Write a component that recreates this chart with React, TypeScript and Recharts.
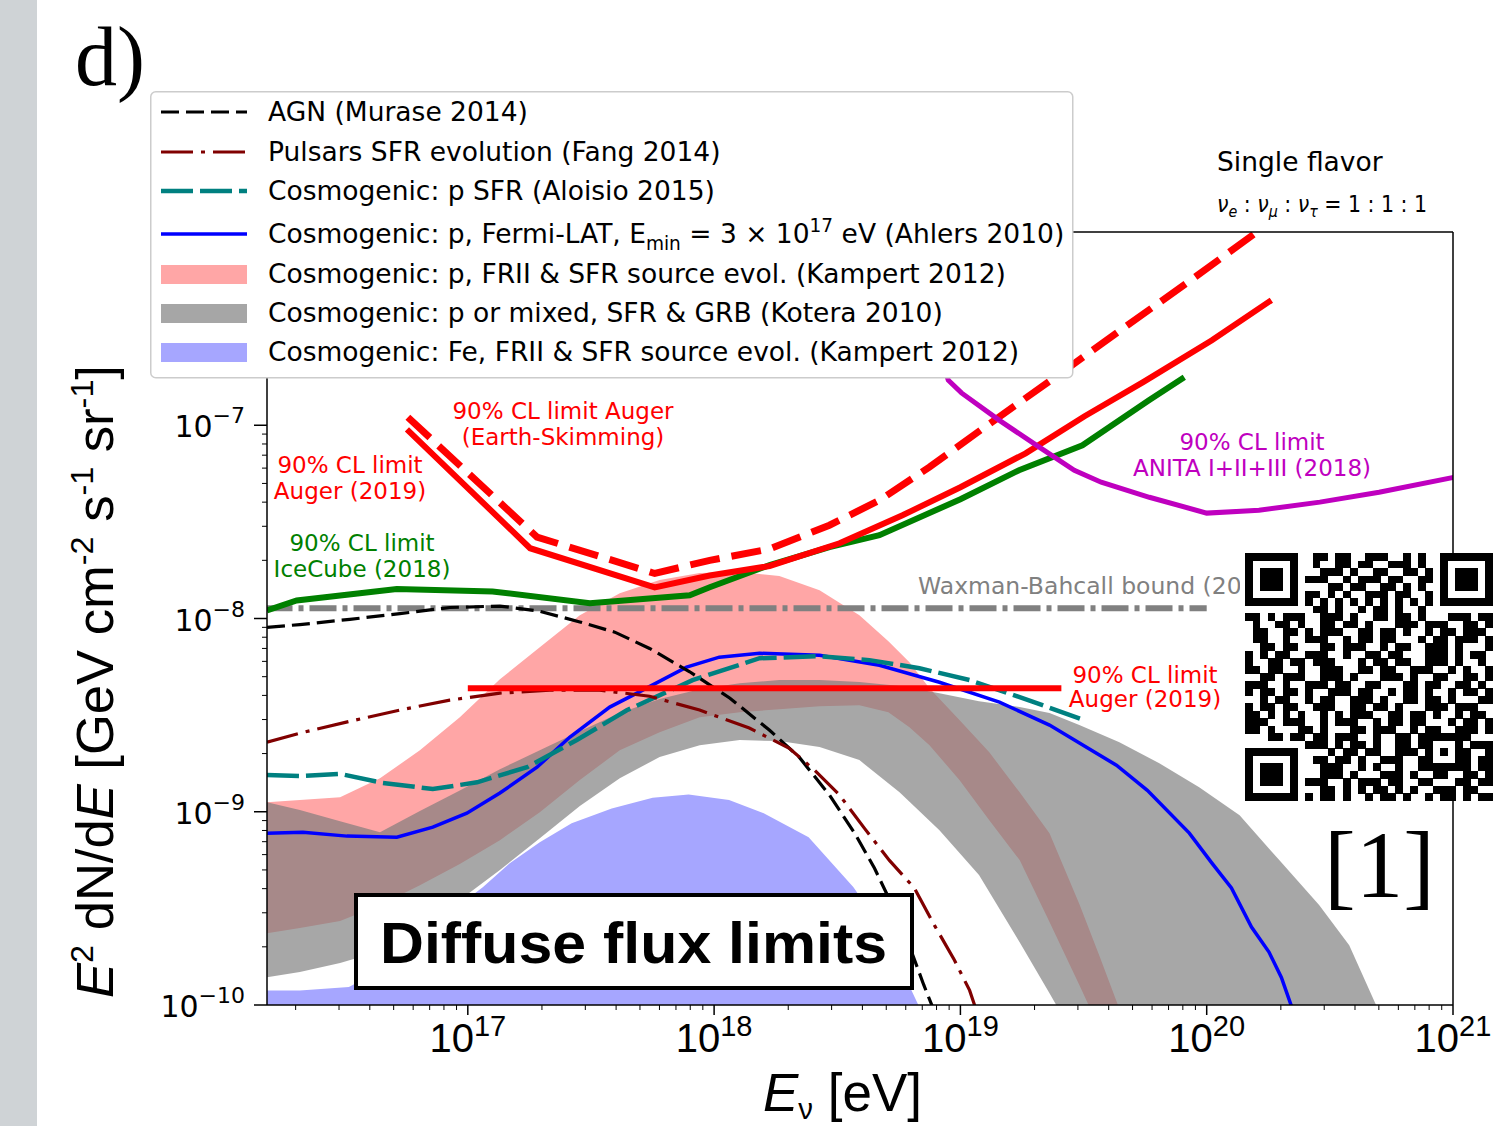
import React from 'react';
import { ComposedChart, Line, Area, XAxis, YAxis, Legend } from 'recharts';

const W = 1493;
const H = 1126;
const SANS = "'DejaVu Sans', sans-serif";
const NARROW = "'Liberation Sans Narrow', 'Liberation Sans', sans-serif";
const SERIF = "'Liberation Serif', 'DejaVu Serif', serif";
const BOLD = "'Liberation Sans', Arial, sans-serif";

// axis ranges (E in eV, flux in GeV cm^-2 s^-1 sr^-1)
const X_MIN = 1.53e16;
const X_MAX = 1e21;
const Y_MIN = 1e-10;
const Y_MAX = 1e-6;

const xMajor = [1e17, 1e18, 1e19, 1e20, 1e21];
const yMajor = [1e-10, 1e-9, 1e-8, 1e-7, 1e-6];

function withMinors(fromExp: number, toExp: number, lo: number, hi: number) {
  const out: number[] = [];
  for (let e = fromExp; e <= toExp; e++) {
    for (let m = 1; m <= 9; m++) {
      const v = m * Math.pow(10, e);
      if (v >= lo && v <= hi) out.push(v);
    }
  }
  return out;
}
const xTicks = withMinors(16, 21, X_MIN, X_MAX);
const yTicks = withMinors(-10, -6, Y_MIN, Y_MAX);

// ---- model predictions ----
const agnE = [1.53e16, 2.08e16, 3.32e16, 5.3e16, 8.45e16, 1.35e17, 1.96e17, 2.85e17, 3.95e17, 5.47e17, 7.96e17, 1.16e18, 1.68e18, 2.22e18, 2.94e18, 3.72e18, 4.48e18, 5.4e18, 6.3e18, 7.1e18, 7.8e18];
const agnF = [9.0e-9, 9.3e-9, 9.9e-9, 1.06e-8, 1.14e-8, 1.16e-8, 1.09e-8, 9.6e-9, 8.5e-9, 7.0e-9, 5.3e-9, 3.87e-9, 2.64e-9, 1.91e-9, 1.22e-9, 7.75e-10, 5.1e-10, 3.1e-10, 1.92e-10, 1.27e-10, 9.4e-11];

const pulsarE = [1.53e16, 2.08e16, 3.32e16, 5.3e16, 8.45e16, 1.35e17, 2.15e17, 3.43e17, 5.47e17, 8.73e17, 1.39e18, 2.02e18, 2.56e18, 3.23e18, 4.08e18, 5.15e18, 6.5e18, 7.84e18, 9.45e18, 1.09e19, 1.16e19];
const pulsarF = [2.29e-9, 2.55e-9, 2.94e-9, 3.36e-9, 3.78e-9, 4.11e-9, 4.26e-9, 4.26e-9, 3.96e-9, 3.36e-9, 2.71e-9, 2.13e-9, 1.64e-9, 1.22e-9, 8.2e-10, 5.6e-10, 4.03e-10, 2.59e-10, 1.71e-10, 1.19e-10, 9.4e-11];

const aloisioE = [1.53e16, 2.08e16, 3.03e16, 4.52e16, 7.21e16, 1.09e17, 1.74e17, 2.77e17, 4.42e17, 8.18e17, 1.53e18, 2.68e18, 4.27e18, 6.82e18, 1.09e19, 1.74e19, 3.18e19];
const aloisioF = [1.55e-9, 1.53e-9, 1.57e-9, 1.41e-9, 1.31e-9, 1.42e-9, 1.7e-9, 2.35e-9, 3.35e-9, 4.8e-9, 6.23e-9, 6.38e-9, 6.09e-9, 5.53e-9, 4.8e-9, 3.92e-9, 2.98e-9];

const ahlersE = [1.53e16, 2.14e16, 3.23e16, 5.15e16, 7.21e16, 9.91e16, 1.35e17, 1.91e17, 2.59e17, 3.77e17, 5.13e17, 7.73e17, 1.05e18, 1.53e18, 2.68e18, 4.69e18, 8.22e18, 1.44e19, 2.3e19, 4.3e19, 5.74e19, 8.5e19, 1.05e20, 1.26e20, 1.52e20, 1.79e20, 2.01e20, 2.2e20, 2.29e20];
const ahlersF = [7.75e-10, 7.84e-10, 7.48e-10, 7.39e-10, 8.32e-10, 9.83e-10, 1.25e-9, 1.7e-9, 2.43e-9, 3.48e-9, 4.26e-9, 5.6e-9, 6.31e-9, 6.61e-9, 6.46e-9, 5.73e-9, 4.68e-9, 3.69e-9, 2.81e-9, 1.74e-9, 1.29e-9, 7.75e-10, 5.42e-10, 4.03e-10, 2.53e-10, 1.88e-10, 1.39e-10, 1.0e-10, 8.87e-11];

// bands: shared energies, lower and upper edge
const kampertE = [1.53e16, 2.08e16, 3.03e16, 4.4e16, 6.39e16, 9.28e16, 1.35e17, 1.96e17, 2.85e17, 4.14e17, 6.01e17, 8.74e17, 1.27e18, 1.84e18, 2.68e18, 3.89e18, 5.1e18, 6.21e18, 7.49e18, 9.91e18, 1.31e19, 1.74e19, 2.3e19, 3.04e19, 3.66e19, 4.63e19];
const kampertLo = [2.35e-10, 2.5e-10, 2.72e-10, 3.29e-10, 4.17e-10, 5.36e-10, 7.13e-10, 9.95e-10, 1.46e-9, 2.08e-9, 2.58e-9, 3.08e-9, 3.27e-9, 3.39e-9, 3.52e-9, 3.56e-9, 3.27e-9, 2.74e-9, 2.21e-9, 1.46e-9, 9.05e-10, 5.62e-10, 2.69e-10, 1.27e-10, 7.6e-11, 4.09e-11];
const kampertHi = [1.12e-9, 1.15e-9, 1.19e-9, 1.49e-9, 2.08e-9, 3.08e-9, 4.85e-9, 7.1e-9, 1.04e-8, 1.35e-8, 1.58e-8, 1.72e-8, 1.74e-8, 1.66e-8, 1.4e-8, 1.04e-8, 7.63e-9, 5.94e-9, 4.36e-9, 2.98e-9, 2.03e-9, 1.26e-9, 7.75e-10, 3.33e-10, 1.81e-10, 8.16e-11];

const koteraE = [1.53e16, 2.08e16, 3.03e16, 4.4e16, 6.39e16, 9.28e16, 1.35e17, 1.96e17, 2.85e17, 4.14e17, 6.01e17, 8.74e17, 1.27e18, 1.84e18, 2.68e18, 3.89e18, 5.66e18, 8.22e18, 1.19e19, 1.74e19, 2.3e19, 3.04e19, 4.42e19, 6.42e19, 9.32e19, 1.36e20, 1.97e20, 2.86e20, 3.79e20, 4.87e20, 6.04e20];
const koteraLo = [1.39e-10, 1.48e-10, 1.65e-10, 1.9e-10, 2.44e-10, 3.49e-10, 4.99e-10, 7.3e-10, 1.07e-9, 1.49e-9, 1.92e-9, 2.21e-9, 2.35e-9, 2.32e-9, 2.16e-9, 1.85e-9, 1.26e-9, 8.03e-10, 4.7e-10, 2.11e-10, 1.15e-10, 6.2e-11, 2.86e-11, 1e-11, 1e-11, 1e-11, 1e-11, 1e-11, 1e-11, 1e-11, 1e-11];
const koteraHi = [1.12e-9, 1.02e-9, 8.94e-10, 7.84e-10, 1.01e-9, 1.29e-9, 1.66e-9, 2.08e-9, 2.61e-9, 3.24e-9, 3.83e-9, 4.31e-9, 4.63e-9, 4.8e-9, 4.8e-9, 4.69e-9, 4.47e-9, 4.11e-9, 3.73e-9, 3.48e-9, 3.24e-9, 2.81e-9, 2.29e-9, 1.78e-9, 1.34e-9, 9.6e-10, 5.62e-10, 3.29e-10, 2.04e-10, 1.0e-10, 5.84e-11];

const ironE = [1.53e16, 2.08e16, 3.29e16, 5.3e16, 7.7e16, 1.15e17, 1.48e17, 1.96e17, 2.64e17, 3.84e17, 5.63e17, 7.88e17, 1.15e18, 1.59e18, 2.42e18, 3.68e18, 4.69e18, 5.66e18, 6.75e18, 7.49e18];
const ironF = [1.19e-10, 1.19e-10, 1.24e-10, 1.71e-10, 2.75e-10, 4.07e-10, 5.42e-10, 6.96e-10, 8.73e-10, 1.04e-9, 1.18e-9, 1.23e-9, 1.15e-9, 9.83e-10, 7.39e-10, 4.07e-10, 2.59e-10, 1.61e-10, 1.0e-10, 7.42e-11];

// ---- limits ----
const wbE = [1e16, 1e20];
const wbF = [1.13e-8, 1.13e-8];

const iceE = [1.53e16, 2.02e16, 5.15e16, 1.26e17, 3.13e17, 7.96e17, 9.6e17, 1.68e18, 2.94e18, 4.69e18, 1.0e19, 1.73e19, 3.13e19, 5.85e19, 8.11e19];
const iceF = [1.1e-8, 1.24e-8, 1.42e-8, 1.38e-8, 1.2e-8, 1.32e-8, 1.45e-8, 1.89e-8, 2.34e-8, 2.7e-8, 4.14e-8, 5.85e-8, 7.88e-8, 1.35e-7, 1.77e-7];

const augerEsE = [5.71e16, 1.91e17, 5.74e17, 9.6e17, 1.68e18, 2.94e18, 4.69e18, 7.48e18, 1.27e19, 2.62e19, 4.46e19, 8.5e19, 1.6e20, 2.16e20];
const augerEsF = [1.1e-7, 2.64e-8, 1.71e-8, 2.0e-8, 2.29e-8, 3.04e-8, 4.09e-8, 6.07e-8, 9.88e-8, 1.9e-7, 3.1e-7, 5.56e-7, 1.0e-6, 1.31e-6];

const augerE = [5.66e16, 1.79e17, 5.74e17, 9.6e17, 1.68e18, 3.23e18, 5.82e18, 1.0e19, 1.84e19, 3.18e19, 5.52e19, 1.05e20, 1.83e20];
const augerF = [9.53e-8, 2.31e-8, 1.45e-8, 1.67e-8, 1.87e-8, 2.45e-8, 3.42e-8, 4.78e-8, 7.16e-8, 1.11e-7, 1.67e-7, 2.75e-7, 4.44e-7];

const augerIntE = [1e17, 2.57e19];
const augerIntF = [4.36e-9, 4.36e-9];

const anitaE = [6.82e18, 8.93e18, 1.01e19, 1.44e19, 2.09e19, 2.9e19, 3.73e19, 5.85e19, 1.0e20, 1.63e20, 2.88e20, 5.01e20, 1.01e21];
const anitaF = [4.99e-7, 1.71e-7, 1.47e-7, 1.06e-7, 7.7e-8, 5.85e-8, 5.07e-8, 4.24e-8, 3.51e-8, 3.63e-8, 4.0e-8, 4.5e-8, 5.38e-8];

const pts = (es: number[], fs: number[]) => es.map((e, i) => ({ e, f: fs[i] }));
const band = (es: number[], lo: number[], hi: number[]) => es.map((e, i) => ({ e, r: [lo[i], hi[i]] }));

// line / fill styles shared by the plot and the legend
const ST = {
  agn: { stroke: '#000000', width: 3.2, dash: '18 7' },
  pulsar: { stroke: '#800000', width: 3.2, dash: '32 8 4 8' },
  aloisio: { stroke: '#008080', width: 4.5, dash: '32 7' },
  ahlers: { stroke: '#0000ff', width: 3.5, dash: undefined as string | undefined },
  kampert: '#ffa6a6',
  kotera: '#a6a6a6',
  iron: '#a6a6ff',
};

const legendRows = [
  { label: 'AGN (Murase 2014)', line: ST.agn },
  { label: 'Pulsars SFR evolution (Fang 2014)', line: ST.pulsar },
  { label: 'Cosmogenic: p SFR (Aloisio 2015)', line: ST.aloisio },
  { label: 'Cosmogenic: p, Fermi-LAT, E_{min} = 3 \u00d7 10^{17} eV (Ahlers 2010)', line: ST.ahlers },
  { label: 'Cosmogenic: p, FRII & SFR source evol. (Kampert 2012)', fill: ST.kampert },
  { label: 'Cosmogenic: p or mixed, SFR & GRB (Kotera 2010)', fill: ST.kotera },
  { label: 'Cosmogenic: Fe, FRII & SFR source evol. (Kampert 2012)', fill: ST.iron },
];

// turns "a_{b}" / "a^{b}" into tspans
function rich(s: string, size: number) {
  const parts = s.split(/(_\{[^}]*\}|\^\{[^}]*\})/).filter(Boolean);
  let shift = 0;
  return parts.map((p, i) => {
    if (p.startsWith('_{') || p.startsWith('^{')) {
      const target = p[0] === '_' ? size * 0.25 : -size * 0.42;
      const dy = target - shift;
      shift = target;
      return (
        <tspan key={i} fontSize={size * 0.7} dy={dy}>
          {p.slice(2, -1)}
        </tspan>
      );
    }
    const dy = -shift;
    shift = 0;
    return (
      <tspan key={i} dy={dy}>
        {p}
      </tspan>
    );
  });
}

function LegendBox() {
  const handleY = [21, 61, 100, 143, 183.5, 222.5, 261.5];
  const textY = [30, 70, 109, 152, 192, 231, 270];
  return (
    <svg width={925} height={290} style={{ display: 'block' }}>
      <rect x={0.75} y={0.75} width={922} height={286} rx={5} fill="#ffffff" stroke="#cccccc" strokeWidth={1.5} />
      {legendRows.map((row, i) => (
        <g key={i}>
          {row.line ? (
            <line
              x1={11}
              x2={97}
              y1={handleY[i]}
              y2={handleY[i]}
              stroke={row.line.stroke}
              strokeWidth={row.line.width}
              strokeDasharray={row.line.dash}
            />
          ) : (
            <rect x={11} y={handleY[i] - 9.5} width={86} height={19} fill={row.fill} />
          )}
          <text x={118} y={textY[i]} fontFamily={SANS} fontSize={26.5} fill="#000">
            {rich(row.label, 26.5)}
          </text>
        </g>
      ))}
    </svg>
  );
}

function XTick(props: any) {
  const { x, y, payload } = props;
  const v = payload.value as number;
  const major = xMajor.includes(v);
  return (
    <g>
      <line x1={x} x2={x} y1={y} y2={y + (major ? 10 : 5)} stroke="#000" strokeWidth={major ? 1.5 : 1} />
      {major && (
        <text x={x} y={y + 47} textAnchor="middle" fontFamily={NARROW} fontSize={40} fill="#000">
          10
          <tspan fontSize={29} dy={-16}>
            {Math.round(Math.log10(v))}
          </tspan>
        </text>
      )}
    </g>
  );
}

function YTick(props: any) {
  const { x, y, payload } = props;
  const v = payload.value as number;
  const major = yMajor.includes(v);
  const exp = Math.round(Math.log10(v));
  return (
    <g>
      <line x1={x} x2={x - (major ? 13 : 5)} y1={y} y2={y} stroke="#000" strokeWidth={major ? 1.5 : 1} />
      {major && (
        <text x={x - 22} y={y + 12} textAnchor="end" fontFamily={SANS} fontSize={30} fill="#000">
          10
          <tspan fontSize={22} dy={-14}>
            {'\u2212' + Math.abs(exp)}
          </tspan>
        </text>
      )}
    </g>
  );
}

function YTitle() {
  return (
    <text
      transform="translate(113, 998) rotate(-90)"
      fontFamily={NARROW}
      fontSize={52}
      fill="#000"
      textLength={633}
      lengthAdjust="spacingAndGlyphs"
    >
      <tspan fontStyle="italic">E</tspan>
      <tspan fontSize={32} dy={-20}>2</tspan>
      <tspan dy={20}>{' dN/d'}</tspan>
      <tspan fontStyle="italic">E</tspan>
      <tspan>{' [GeV cm'}</tspan>
      <tspan fontSize={32} dy={-20}>-2</tspan>
      <tspan dy={20}>{' s'}</tspan>
      <tspan fontSize={32} dy={-20}>-1</tspan>
      <tspan dy={20}>{' sr'}</tspan>
      <tspan fontSize={32} dy={-20}>-1</tspan>
      <tspan dy={20}>]</tspan>
    </text>
  );
}

function XTitle() {
  return (
    <text x={763} y={1111} fontFamily={NARROW} fontSize={54} fill="#000" textLength={159} lengthAdjust="spacingAndGlyphs">
      <tspan fontStyle="italic">E</tspan>
      <tspan fontSize={30} dy={8}>{'\u03bd'}</tspan>
      <tspan dy={-8}>{' [eV]'}</tspan>
    </text>
  );
}

// QR code: 33x33 modules, finder / timing / alignment patterns plus payload bits
const QR_N = 33;
const qrPayload =
  '0110110011100101001001101100111010001110100110011011110010111011001100011011001101010110101001110110010110100101101001011010110011101001101101000111011010011100110110100011101110011010110010101110011011010010110111001' +
  '1001011100101101100010110111010011010001101110010110011101000110101101110010011011000111010110100110101110001011011001110100101101101001110';

function buildQr() {
  const g: (number | null)[][] = Array.from({ length: QR_N }, () => Array(QR_N).fill(null));
  const finder = (r0: number, c0: number) => {
    for (let r = -1; r <= 7; r++)
      for (let c = -1; c <= 7; c++) {
        const rr = r0 + r;
        const cc = c0 + c;
        if (rr < 0 || cc < 0 || rr >= QR_N || cc >= QR_N) continue;
        const ring = Math.max(Math.abs(r - 3), Math.abs(c - 3));
        g[rr][cc] = ring === 4 || ring === 2 ? 0 : 1;
      }
  };
  finder(0, 0);
  finder(0, QR_N - 7);
  finder(QR_N - 7, 0);
  for (let i = 8; i < QR_N - 8; i++) {
    g[6][i] = i % 2 === 0 ? 1 : 0;
    g[i][6] = i % 2 === 0 ? 1 : 0;
  }
  for (let r = -2; r <= 2; r++)
    for (let c = -2; c <= 2; c++) {
      const ring = Math.max(Math.abs(r), Math.abs(c));
      g[26 + r][26 + c] = ring === 1 ? 0 : 1;
    }
  let k = 0;
  for (let r = 0; r < QR_N; r++)
    for (let c = 0; c < QR_N; c++)
      if (g[r][c] === null) {
        g[r][c] = qrPayload[k % qrPayload.length] === '1' ? 1 : 0;
        k++;
      }
  return g as number[][];
}

function QrCode({ x, y, size }: { x: number; y: number; size: number }) {
  const grid = buildQr();
  const m = size / QR_N;
  const cells: React.ReactNode[] = [];
  grid.forEach((row, r) => {
    let c = 0;
    while (c < QR_N) {
      if (row[c]) {
        let c2 = c;
        while (c2 < QR_N && row[c2]) c2++;
        cells.push(<rect key={`${r}-${c}`} x={x + c * m} y={y + r * m} width={(c2 - c) * m + 0.3} height={m + 0.3} />);
        c = c2;
      } else c++;
    }
  });
  return (
    <g>
      <rect x={x - 5} y={y} width={size + 5} height={size} fill="#ffffff" />
      <g fill="#000" shapeRendering="crispEdges">
        {cells}
      </g>
    </g>
  );
}

function Annotations() {
  return (
    <svg width={W} height={H} style={{ position: 'absolute', left: 0, top: 0, pointerEvents: 'none' }}>
      <text x={75} y={85} fontFamily={SERIF} fontSize={84} fill="#000">
        d)
      </text>
      <g fontFamily={SANS} fontSize={23} textAnchor="middle">
        <text x={563} y={419} fill="#ff0000">90% CL limit Auger</text>
        <text x={563} y={445} fill="#ff0000">(Earth-Skimming)</text>
        <text x={350} y={473} fill="#ff0000">90% CL limit</text>
        <text x={350} y={499} fill="#ff0000">Auger (2019)</text>
        <text x={362} y={551} fill="#008000">90% CL limit</text>
        <text x={362} y={577} fill="#008000">IceCube (2018)</text>
        <text x={1145} y={683} fill="#ff0000">90% CL limit</text>
        <text x={1145} y={707} fill="#ff0000">Auger (2019)</text>
        <text x={1252} y={450} fill="#bf00bf">90% CL limit</text>
        <text x={1252} y={476} fill="#bf00bf">ANITA I+II+III (2018)</text>
      </g>
      <text x={918} y={594} fontFamily={SANS} fontSize={23.5} fill="#808080">
        Waxman-Bahcall bound (2001)
      </text>
      <text x={1217} y={171} fontFamily={SANS} fontSize={26.5} fill="#000">
        Single flavor
      </text>
      <text x={1217} y={212} fontFamily={SANS} fontSize={23} fill="#000" textLength={210} lengthAdjust="spacingAndGlyphs">
        <tspan fontStyle="italic">{'\u03bd'}</tspan>
        <tspan fontSize={16} dy={5} fontStyle="italic">e</tspan>
        <tspan dy={-5}>{' : '}</tspan>
        <tspan fontStyle="italic">{'\u03bd'}</tspan>
        <tspan fontSize={16} dy={5} fontStyle="italic">{'\u03bc'}</tspan>
        <tspan dy={-5}>{' : '}</tspan>
        <tspan fontStyle="italic">{'\u03bd'}</tspan>
        <tspan fontSize={16} dy={5} fontStyle="italic">{'\u03c4'}</tspan>
        <tspan dy={-5}>{' = 1 : 1 : 1'}</tspan>
      </text>
      <rect x={356} y={895} width={556} height={93} fill="#ffffff" stroke="#000" strokeWidth={4} />
      <text x={380} y={963} fontFamily={BOLD} fontWeight="bold" fontSize={58} fill="#000" textLength={507} lengthAdjust="spacingAndGlyphs">
        Diffuse flux limits
      </text>
      <QrCode x={1245} y={553} size={248} />
      <text x={1324} y={897} fontFamily={SERIF} fontSize={95} fill="#000">
        [1]
      </text>
    </svg>
  );
}

const axisLine = { stroke: '#000', strokeWidth: 1.5 };

export default function App() {
  return (
    <div style={{ position: 'absolute', left: 0, top: 0, width: W, height: H, background: '#ffffff', overflow: 'hidden' }}>
      <div style={{ position: 'absolute', left: 0, top: 0, width: 37, height: H, background: '#cfd3d6' }} />
      <div style={{ position: 'absolute', left: 0, top: 0 }}>
        <ComposedChart width={W} height={H} margin={{ top: 231, right: 39, bottom: 0, left: 0 }}>
          <XAxis
            dataKey="e"
            type="number"
            scale="log"
            domain={[X_MIN, X_MAX]}
            allowDataOverflow
            ticks={xTicks}
            interval={0}
            tick={(p: any) => <XTick {...p} />}
            tickLine={false}
            tickSize={0}
            tickMargin={0}
            height={121}
            axisLine={axisLine}
            label={<XTitle />}
          />
          <XAxis
            xAxisId="top"
            orientation="top"
            type="number"
            scale="log"
            domain={[X_MIN, X_MAX]}
            allowDataOverflow
            ticks={xMajor}
            interval={0}
            tick={false}
            tickSize={10}
            tickLine={{ stroke: '#000', strokeWidth: 1.5 }}
            height={1}
            axisLine={axisLine}
          />
          <YAxis
            type="number"
            scale="log"
            domain={[Y_MIN, Y_MAX]}
            allowDataOverflow
            ticks={yTicks}
            interval={0}
            tick={(p: any) => <YTick {...p} />}
            tickLine={false}
            tickSize={0}
            tickMargin={0}
            width={267}
            axisLine={axisLine}
            label={<YTitle />}
          />
          <YAxis
            yAxisId="right"
            orientation="right"
            type="number"
            scale="log"
            domain={[Y_MIN, Y_MAX]}
            allowDataOverflow
            ticks={yMajor}
            interval={0}
            tick={false}
            tickSize={13}
            tickLine={{ stroke: '#000', strokeWidth: 1.5 }}
            width={1}
            axisLine={axisLine}
          />

          <Area data={band(kampertE, kampertLo, kampertHi)} dataKey="r" type="linear" stroke="none" fill={ST.kampert} fillOpacity={1} isAnimationActive={false} />
          <Area data={band(koteraE, koteraLo, koteraHi)} dataKey="r" type="linear" stroke="none" fill="#797979" fillOpacity={0.66} isAnimationActive={false} />
          <Area data={pts(ironE, ironF)} dataKey="f" type="linear" baseValue="dataMin" stroke="none" fill={ST.iron} fillOpacity={1} isAnimationActive={false} />

          <Line data={pts(ahlersE, ahlersF)} dataKey="f" type="linear" stroke={ST.ahlers.stroke} strokeWidth={ST.ahlers.width} dot={false} isAnimationActive={false} />
          <Line data={pts(aloisioE, aloisioF)} dataKey="f" type="linear" stroke={ST.aloisio.stroke} strokeWidth={ST.aloisio.width} strokeDasharray={ST.aloisio.dash} dot={false} isAnimationActive={false} />
          <Line data={pts(wbE, wbF)} dataKey="f" type="linear" stroke="#808080" strokeWidth={6} strokeDasharray="27 6 5 6" dot={false} isAnimationActive={false} />
          <Line data={pts(agnE, agnF)} dataKey="f" type="linear" stroke={ST.agn.stroke} strokeWidth={ST.agn.width} strokeDasharray={ST.agn.dash} dot={false} isAnimationActive={false} />
          <Line data={pts(pulsarE, pulsarF)} dataKey="f" type="linear" stroke={ST.pulsar.stroke} strokeWidth={ST.pulsar.width} strokeDasharray={ST.pulsar.dash} dot={false} isAnimationActive={false} />
          <Line data={pts(iceE, iceF)} dataKey="f" type="linear" stroke="#008000" strokeWidth={6} dot={false} isAnimationActive={false} />
          <Line data={pts(augerEsE, augerEsF)} dataKey="f" type="linear" stroke="#ff0000" strokeWidth={7} strokeDasharray="30 12" dot={false} isAnimationActive={false} />
          <Line data={pts(augerE, augerF)} dataKey="f" type="linear" stroke="#ff0000" strokeWidth={6} dot={false} isAnimationActive={false} />
          <Line data={pts(augerIntE, augerIntF)} dataKey="f" type="linear" stroke="#ff0000" strokeWidth={6} dot={false} isAnimationActive={false} />
          <Line data={pts(anitaE, anitaF)} dataKey="f" type="linear" stroke="#bf00bf" strokeWidth={5} dot={false} isAnimationActive={false} />

          <Legend
            content={() => <LegendBox />}
            layout="vertical"
            align="center"
            verticalAlign="middle"
            wrapperStyle={{ left: 150, top: 91, width: 925, height: 290 }}
          />
        </ComposedChart>
      </div>
      <Annotations />
    </div>
  );
}
